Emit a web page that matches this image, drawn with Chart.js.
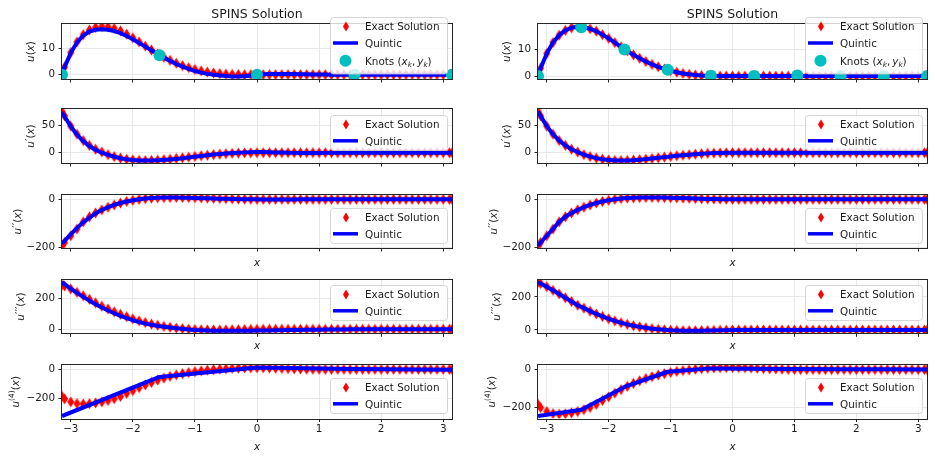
<!DOCTYPE html>
<html><head><meta charset="utf-8">
<script src="https://cdn.jsdelivr.net/npm/chart.js@4.4.0/dist/chart.umd.min.js"></script>
<style>
html,body{margin:0;padding:0;background:#fff;}
#wrap{position:relative;width:935px;height:456px;overflow:hidden;background:#fff;}
#wrap canvas{position:absolute;}
</style></head><body><div id="wrap"></div>
<script>
// ---------------- DATA ----------------
const xGrid = [-3.1416, -3.1, -3.0, -2.9, -2.8, -2.7, -2.6, -2.5, -2.4, -2.3, -2.2, -2.1, -2.0, -1.9, -1.8, -1.7, -1.6, -1.5, -1.4, -1.3, -1.2, -1.1, -1.0, -0.9, -0.8, -0.7, -0.6, -0.5, -0.4, -0.3, -0.2, -0.1,
  0, 0.1, 0.2, 0.3, 0.4, 0.5, 0.6, 0.7, 0.8, 0.9, 1.0, 1.1, 1.2, 1.3, 1.4, 1.5, 1.6, 1.7, 1.8, 1.9, 2.0, 2.1, 2.2, 2.3, 2.4, 2.5, 2.6, 2.7, 2.8, 2.9, 3.0, 3.1, 3.1416];

// exact solution u and its derivatives (same in both columns)
const exactU = [0, 2.9, 8.5, 12.6, 15.4, 17.2, 18.2, 18.55, 18.4, 17.8, 16.9, 15.6, 14.2, 12.6, 11.0, 9.5, 8.0, 6.7, 5.5, 4.4, 3.5, 2.7, 2.0, 1.45, 1.0, 0.65, 0.4, 0.22, 0.1, 0.04, 0.01, 0,
  0,0,0,0,0,0,0,0,0,0, 0,0,0,0,0,0,0,0,0,0, 0,0,0,0,0,0,0,0,0,0, 0,0,0];
const exactU1 = [74.5, 66.5, 48, 33.5, 22, 13.2, 6.3, 1.2, -3.5, -7, -9.8, -11.8, -13, -14, -14.2, -14, -13.5, -12.6, -11.6, -10.4, -9.2, -8, -6.8, -5.6, -4.5, -3.5, -2.6, -1.8, -1.2, -0.7, -0.35, -0.1,
  0,0,0,0,0,0,0,0,0,0, 0,0,0,0,0,0,0,0,0,0, 0,0,0,0,0,0,0,0,0,0, 0,0,0];
const exactU2 = [-193, -180, -152, -124, -94, -73, -57, -44, -33, -23.5, -15.5, -9, -4, 0, 3, 5, 6.5, 7.3, 7.8, 8, 7.8, 7.3, 6.6, 5.8, 5, 4.1, 3.3, 2.5, 1.8, 1.2, 0.7, 0.3,
  0,0,0,0,0,0,0,0,0,0, 0,0,0,0,0,0,0,0,0,0, 0,0,0,0,0,0,0,0,0,0, 0,0,0];
const exactU3 = [289, 281, 262, 240, 218, 195, 172, 150, 132, 114, 97, 82, 68, 55, 44, 34, 26, 19, 13, 8, 4, 1, -1.5, -3, -4, -4.5, -4.5, -4, -3.3, -2.5, -1.6, -0.8,
  0,0,0,0,0,0,0,0,0,0, 0,0,0,0,0,0,0,0,0,0, 0,0,0,0,0,0,0,0,0,0, 0,0,0];
const exactU4 = [-185, -203, -224, -235, -238, -236, -231, -224, -214, -202, -186, -165, -146, -126, -107, -90, -74, -60, -48, -38, -29, -22, -15.5, -10, -5.5, -2, 1.5, 4.5, 7, 8.5, 9.5, 10.5,
  11, 10.5, 9.5, 8, 6.5, 5, 3.5, 2.5, 1.5, 1, 0.5, 0,0,0,0,0,0,0,0,0,0, 0,0,0,0,0,0,0,0,0,0, 0,0];

// quintic spline, 5 knots (left column)
const quinticLeftU = [0, 2.9, 8.4, 12.4, 15.0, 16.6, 17.3, 17.5, 17.3, 16.8, 16.0, 14.9, 13.6, 12.2, 10.8, 9.4, 7.9, 6.6, 5.3, 4.1, 3.1, 2.2, 1.4, 0.8, 0.3, -0.05, -0.35, -0.55, -0.68, -0.7, -0.6, -0.35,
  0, 0.15, 0.25, 0.3, 0.3, 0.28, 0.24, 0.2, 0.15, 0.1, 0.06, 0.03, 0.01, 0,0,0,0,0,0,0, 0,0,0,0,0,0,0,0,0,0, 0,0,0];
const quinticLeftU1 = [73, 65.5, 47.5, 32.5, 21, 12, 5, 0, -4, -7.3, -10, -12, -13.3, -14, -14.2, -14, -13.6, -13, -12.2, -11.2, -10, -8.7, -7.3, -6, -4.6, -3.4, -2.4, -1.5, -0.7, 0, 0.6, 1.0,
  1.3, 1.3, 0.9, 0.5, 0.2, 0, -0.3, -0.4, -0.5, -0.5, -0.4, -0.3, -0.2, -0.1, 0,0,0,0,0,0, 0,0,0,0,0,0,0,0,0,0, 0,0,0];
const quinticLeftU2 = [-185, -173, -146, -120, -96, -76, -58.5, -44.5, -33, -23.5, -15.5, -9, -4, 0, 3, 5.2, 6.5, 7.2, 7.5, 7.4, 7.0, 6.4, 5.7, 4.9, 4.1, 3.3, 2.6, 1.9, 1.3, 0.8, 0.4, 0.1,
  -0.2, -0.4, -0.5, -0.5, -0.45, -0.4, -0.3, -0.2, -0.1, 0, 0,0,0,0,0,0,0,0,0,0, 0,0,0,0,0,0,0,0,0,0, 0,0,0];
const quinticLeftU3 = [306, 294, 265, 237, 211, 186, 163, 141.5, 122, 104, 87, 72, 59, 47, 37, 29, 22, 16.7, 11.7, 7.1, 2.9, -0.8, -4.2, -6.5, -8, -9, -9.7, -10, -10, -9.8, -9.4, -8.8,
  -8.2, -7.6, -7, -6.4, -5.8, -5.2, -4.6, -4, -3.4, -2.8, -2.2, -1.7, -1.2, -0.8, -0.5, -0.2, 0,0,0,0, 0,0,0,0,0,0,0,0,0,0, 0,0,0];
const knotsLeftX = [-3.1416, -1.5708, 0, 1.5708, 3.1416];
const knotsLeftY = [0, 7.5, 0, 0, 0];
const quinticLeftU4 = [-321, -52, 13, 3, -2];   // 4th derivative is linear between knots

// quintic spline, 10 knots (right column) - follows the exact solution
const quinticRightU = exactU;
const quinticRightU1 = exactU1;
const quinticRightU2 = exactU2;
const quinticRightU3 = exactU3;
const knotsRightX = [-3.1416, -2.4435, -1.7453, -1.0472, -0.3491, 0.3491, 1.0472, 1.7453, 2.4435, 3.1416];
const knotsRightY = [0, 18.4, 10.0, 2.4, 0.1, 0, 0.2, 0, 0, 0];
const quinticRightU4 = [-248, -214, -93, -12, 6, 4, 3, 2, 2, 0];

const xTicks = [-3, -2, -1, 0, 1, 2, 3];
const yTicks = [[0, 10], [0, 50], [-200, 0], [0, 200], [-200, 0]];
const yRangeLeft = [[-1.67, 19.5], [-18.6, 79], [-203, 18], [-26, 322], [-338, 30]];
const yRangeRight = [[-1.1, 19.6], [-18.6, 79], [-203, 18], [-20, 304], [-261, 24]];
const titleText = 'SPINS Solution';
const labelExact = 'Exact Solution';
const labelQuintic = 'Quintic';
const labelKnots = 'Knots ';

// ---------------- STYLE / LAYOUT ----------------
const FONT = "'DejaVu Sans', sans-serif";
const TXT = '#1a1a1a';
const FS = 10.4;
const RED = '#ff0000', BLUE = '#0000ff', CYAN = '#00bfbf';
const ROWS = [
  {top: 0, h: 96, pt: 24, pb: 79, legend: 'lower'},
  {top: 96, h: 86, pt: 109, pb: 163, legend: 'upper'},
  {top: 182, h: 88, pt: 195, pb: 248, legend: 'lower', xl: 266},
  {top: 270, h: 85, pt: 279.5, pb: 333.3, legend: 'upper', xl: 349.3},
  {top: 355, h: 101, pt: 365, pb: 418.5, legend: 'lower', xl: 449.5, xt: true}
];
const COLS = [
  {left: 0, w: 467, pl: 62, pr: 452},
  {left: 467, w: 468, pl: 538, pr: 927}
];
const YLAB_OFF = [-32, -32, -45, -42, -47];

const PR = '\u2032';
const yLabelSegs = [
  [{t:'u',it:1},{t:'('},{t:'x',it:1},{t:')'}],
  [{t:'u',it:1},{t:PR,sc:1.05,dy:0.3},{t:'('},{t:'x',it:1},{t:')'}],
  [{t:'u',it:1},{t:PR+PR,sc:1.05,dy:0.3},{t:'('},{t:'x',it:1},{t:')'}],
  [{t:'u',it:1},{t:PR+PR+PR,sc:1.05,dy:0.3},{t:'('},{t:'x',it:1},{t:')'}],
  [{t:'u',it:1},{t:'(4)',sc:0.72,dy:4.2},{t:'('},{t:'x',it:1},{t:')'}]
];
const knotsSegs = [{t:labelKnots},{t:'('},{t:'x',it:1},{t:'k',it:1,sc:0.7,dy:-2},{t:','},{t:' ',sc:0.6},{t:'y',it:1},{t:'k',it:1,sc:0.7,dy:-2},{t:')'}];

function makeDiamond(w, h) {
  const cv = document.createElement('canvas');
  cv.width = w + 2; cv.height = h + 1;
  const c = cv.getContext('2d');
  c.fillStyle = RED;
  const cx = (w + 2) / 2, cy = (h + 1) / 2;
  c.beginPath(); c.moveTo(cx, cy - h / 2); c.lineTo(cx + w / 2, cy); c.lineTo(cx, cy + h / 2); c.lineTo(cx - w / 2, cy); c.closePath(); c.fill();
  return cv;
}
const diamond = makeDiamond(7, 11);        // plot marker
const diamondLegend = makeDiamond(6, 10);  // legend marker

function fmt(v) { return v < 0 ? '\u2212' + Math.abs(v) : String(v); }
function toXY(xs, ys) { return xs.map((x, i) => ({x: x, y: ys[i]})); }

function segsWidth(ctx, segs, base) {
  let w = 0;
  for (const s of segs) {
    ctx.font = (s.it ? 'italic ' : '') + (base * (s.sc || 1)) + 'px ' + FONT;
    w += ctx.measureText(s.t).width;
  }
  return w;
}
function drawSegs(ctx, segs, x, y, base) {
  let cx = x;
  ctx.textBaseline = 'alphabetic';
  ctx.textAlign = 'left';
  for (const s of segs) {
    ctx.font = (s.it ? 'italic ' : '') + (base * (s.sc || 1)) + 'px ' + FONT;
    ctx.fillText(s.t, cx, y - (s.dy || 0));
    cx += ctx.measureText(s.t).width;
  }
}
function roundRect(ctx, x, y, w, h, r) {
  ctx.beginPath();
  ctx.moveTo(x + r, y);
  ctx.lineTo(x + w - r, y); ctx.quadraticCurveTo(x + w, y, x + w, y + r);
  ctx.lineTo(x + w, y + h - r); ctx.quadraticCurveTo(x + w, y + h, x + w - r, y + h);
  ctx.lineTo(x + r, y + h); ctx.quadraticCurveTo(x, y + h, x, y + h - r);
  ctx.lineTo(x, y + r); ctx.quadraticCurveTo(x, y, x + r, y);
  ctx.closePath();
}

function makeDecor(ci, ri) {
  const col = COLS[ci], row = ROWS[ri];
  return {
    id: 'decor',
    afterDraw(chart) {
      const ctx = chart.ctx, a = chart.chartArea;
      ctx.save();
      // spines
      ctx.strokeStyle = '#262626'; ctx.lineWidth = 1;
      const L = Math.round(a.left) - 0.5, T = Math.round(a.top) - 0.5;
      const R = Math.round(a.right) + 0.5, B = Math.round(a.bottom) + 0.5;
      ctx.strokeRect(L, T, R - L, B - T);
      // legend
      const items = ri === 0 ? ['exact', 'quintic', 'knots'] : ['exact', 'quintic'];
      const bw = 117, bh = items.length === 3 ? 56.5 : 35;
      const offs = items.length === 3 ? [9.5, 26, 43.7] : [9.2, 25.8];
      const bx = Math.round(a.right - 5.5 - bw);
      const by = Math.round(row.legend === 'upper' ? a.top + 5.5 : a.bottom - 5.5 - bh);
      roundRect(ctx, bx + 0.5, by + 0.5, bw, bh, 3);
      ctx.fillStyle = 'rgba(255,255,255,0.8)'; ctx.fill();
      ctx.strokeStyle = 'rgba(204,204,204,0.8)'; ctx.lineWidth = 1; ctx.stroke();
      items.forEach((it, i) => {
        const cy = by + offs[i];
        const hx0 = bx + 3, hx1 = bx + 28, hc = (hx0 + hx1) / 2;
        if (it === 'exact') {
          ctx.drawImage(diamondLegend, Math.round(hc - diamondLegend.width / 2), Math.round(cy - diamondLegend.height / 2));
        } else if (it === 'quintic') {
          ctx.strokeStyle = BLUE; ctx.lineWidth = 3.5;
          ctx.beginPath(); ctx.moveTo(hx0, cy); ctx.lineTo(hx1, cy); ctx.stroke();
        } else {
          ctx.fillStyle = CYAN;
          ctx.beginPath(); ctx.arc(hc, cy, 6, 0, Math.PI * 2); ctx.fill();
        }
        ctx.fillStyle = TXT;
        const tx = bx + 35;
        if (it === 'knots') drawSegs(ctx, knotsSegs, tx, cy + 3.8, FS);
        else drawSegs(ctx, [{t: it === 'exact' ? labelExact : labelQuintic}], tx, cy + 3.8, FS);
      });
      // title
      if (ri === 0) {
        ctx.fillStyle = TXT; ctx.font = '12.5px ' + FONT;
        ctx.textAlign = 'center'; ctx.textBaseline = 'alphabetic';
        ctx.fillText(titleText, (a.left + a.right) / 2, 18);
      }
      // y label
      ctx.fillStyle = TXT;
      const segs = yLabelSegs[ri];
      const w = segsWidth(ctx, segs, FS);
      ctx.translate(col.pl + YLAB_OFF[ri] - col.left, (a.top + a.bottom) / 2);
      ctx.rotate(-Math.PI / 2);
      drawSegs(ctx, segs, -w / 2, 3.5, FS);
      ctx.setTransform(1, 0, 0, 1, 0, 0);
      // x label
      if (row.xl) {
        ctx.font = 'italic ' + FS + 'px ' + FONT;
        ctx.textAlign = 'center'; ctx.textBaseline = 'alphabetic';
        ctx.fillText('x', (a.left + a.right) / 2, row.xl - row.top);
      }
      ctx.restore();
    }
  };
}

const exactSeries = [exactU, exactU1, exactU2, exactU3, exactU4];
const quinticLeft = [[xGrid, quinticLeftU], [xGrid, quinticLeftU1], [xGrid, quinticLeftU2], [xGrid, quinticLeftU3], [knotsLeftX, quinticLeftU4]];
const quinticRight = [[xGrid, quinticRightU], [xGrid, quinticRightU1], [xGrid, quinticRightU2], [xGrid, quinticRightU3], [knotsRightX, quinticRightU4]];

const wrap = document.getElementById('wrap');
COLS.forEach((col, ci) => {
  ROWS.forEach((row, ri) => {
    const cv = document.createElement('canvas');
    cv.width = col.w; cv.height = row.h;
    cv.style.left = col.left + 'px'; cv.style.top = row.top + 'px';
    cv.style.width = col.w + 'px'; cv.style.height = row.h + 'px';
    wrap.appendChild(cv);
    const q = (ci === 0 ? quinticLeft : quinticRight)[ri];
    const datasets = [];
    if (ri === 0) {
      datasets.push({
        label: 'Knots', data: ci === 0 ? toXY(knotsLeftX, knotsLeftY) : toXY(knotsRightX, knotsRightY),
        showLine: false, pointStyle: 'circle', pointRadius: 6, pointBackgroundColor: CYAN,
        pointBorderWidth: 0, pointBorderColor: CYAN, clip: 0
      });
    }
    datasets.push({
      label: labelQuintic, data: toXY(q[0], q[1]), showLine: true, borderColor: BLUE,
      borderWidth: 4, pointRadius: 0, tension: 0, fill: false, clip: 0, borderJoinStyle: 'round'
    });
    datasets.push({
      label: labelExact, data: toXY(xGrid, exactSeries[ri]), showLine: false,
      pointStyle: diamond, pointRadius: 5, clip: 0
    });
    const yr = (ci === 0 ? yRangeLeft : yRangeRight)[ri];
    const plTop = row.pt - row.top, plBot = row.pb - row.top;
    new Chart(cv, {
      type: 'scatter',
      data: {datasets: datasets},
      options: {
        responsive: false, animation: false, devicePixelRatio: 1,
        layout: {padding: {top: plTop, right: col.w - (col.pr - col.left), bottom: 0, left: 0}},
        plugins: {legend: {display: false}, tooltip: {enabled: false}, title: {display: false}},
        scales: {
          x: {
            type: 'linear', min: -Math.PI, max: Math.PI,
            afterBuildTicks: s => { s.ticks = xTicks.map(v => ({value: v})); },
            afterFit: s => { s.height = row.h - plBot; },
            grid: {color: '#e8e8e8', lineWidth: 1, drawTicks: true, tickLength: 3.5, tickColor: '#262626', tickWidth: 1},
            border: {display: false},
            ticks: {display: !!row.xt, color: TXT, font: {family: FONT, size: FS}, padding: 1,
                    autoSkip: false, maxRotation: 0, callback: v => fmt(v)}
          },
          y: {
            type: 'linear', min: yr[0], max: yr[1],
            afterBuildTicks: s => { s.ticks = yTicks[ri].map(v => ({value: v})); },
            afterFit: s => { s.width = col.pl - col.left; },
            grid: {color: '#e8e8e8', lineWidth: 1, drawTicks: true, tickLength: 3.5, tickColor: '#262626', tickWidth: 1},
            border: {display: false},
            ticks: {color: TXT, font: {family: FONT, size: FS}, padding: 3.5, autoSkip: false, callback: v => fmt(v)}
          }
        }
      },
      plugins: [makeDecor(ci, ri)]
    });
  });
});
</script>
</body></html>
